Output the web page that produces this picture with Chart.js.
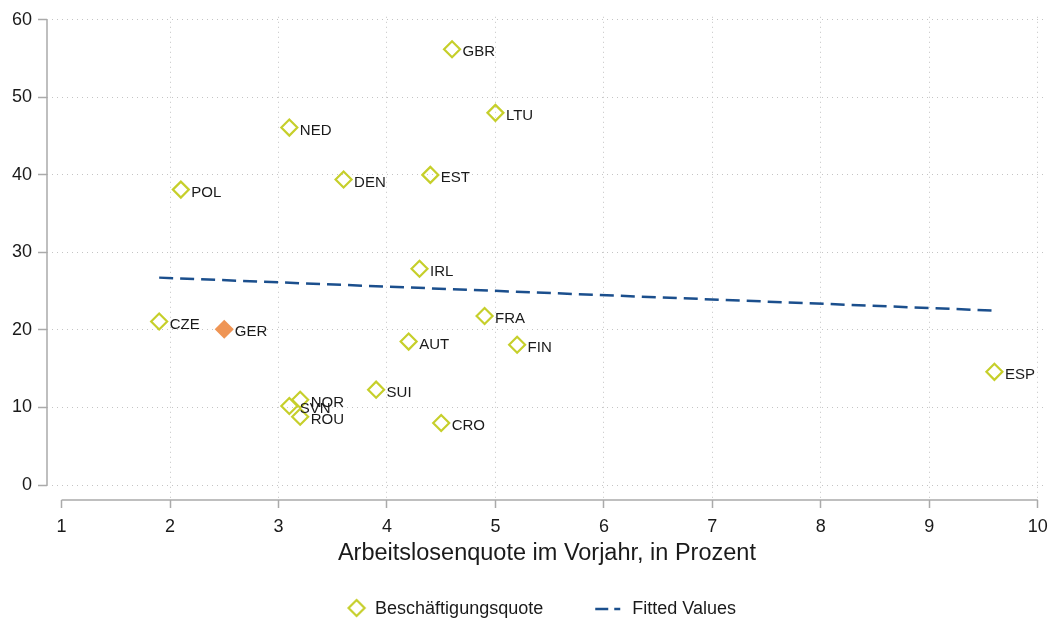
<!DOCTYPE html>
<html lang="de">
<head>
  <meta charset="UTF-8">
  <title>Beschäftigungsquote vs Arbeitslosenquote</title>
  <script src="https://cdn.jsdelivr.net/npm/chart.js"></script>
  <style>
    html, body { margin: 0; padding: 0; background: #fff; }
    #chart { display: block; }
  </style>
</head>
<body>
  <canvas id="chart" width="1057" height="623"></canvas>
  <script>
    // data
    const countries = ['GBR','LTU','NED','EST','DEN','POL','IRL','CZE','GER','FRA','AUT','FIN','ESP','SUI','NOR','SVN','ROU','CRO'];
    const unemployment = [4.6, 5.0, 3.1, 4.4, 3.6, 2.1, 4.3, 1.9, 2.5, 4.9, 4.2, 5.2, 9.6, 3.9, 3.2, 3.1, 3.2, 4.5];
    const employment = [56.2, 48.0, 46.1, 40.0, 39.4, 38.1, 27.9, 21.1, 20.1, 21.8, 18.5, 18.1, 14.6, 12.3, 11.0, 10.2, 8.8, 8.0];
    const fitX = [1.9, 9.6];
    const fitY = [26.75, 22.5];
    const xTicks = [1, 2, 3, 4, 5, 6, 7, 8, 9, 10];
    const yTicks = [0, 10, 20, 30, 40, 50, 60];
    const highlight = 'GER';

    const green = '#c6cf2b';
    const orange = '#ef9555';
    const blue = '#1b4f8d';
    const axisGray = '#aaaaaa';
    const gridGray = '#c4c4c4';
    const font = '"Liberation Sans", Arial, Helvetica, sans-serif';

    function marker(w, h, draw) {
      const c = document.createElement('canvas');
      c.width = w; c.height = h;
      draw(c.getContext('2d'));
      return c;
    }
    const diamondIcon = marker(64, 22, g => {
      const cx = 32 + 16.5, cy = 10;
      g.strokeStyle = green; g.lineWidth = 2.2;
      g.beginPath();
      g.moveTo(cx, cy - 8); g.lineTo(cx + 8, cy); g.lineTo(cx, cy + 8); g.lineTo(cx - 8, cy);
      g.closePath(); g.stroke();
    });
    const dashIcon = marker(64, 22, g => {
      g.strokeStyle = blue; g.lineWidth = 2.5;
      g.beginPath();
      g.moveTo(32 - 2, 11); g.lineTo(32 + 11, 11);
      g.moveTo(32 + 17, 11); g.lineTo(32 + 23, 11);
      g.stroke();
    });

    const pointLabels = {
      id: 'pointLabels',
      afterDatasetsDraw(chart) {
        const meta = chart.getDatasetMeta(0);
        const ctx = chart.ctx;
        ctx.save();
        ctx.font = '15px ' + font;
        ctx.fillStyle = '#1a1a1a';
        ctx.textBaseline = 'middle';
        meta.data.forEach((el, i) => ctx.fillText(countries[i], el.x + 10.5, el.y + 3));
        ctx.restore();
      }
    };

    const axisLines = {
      id: 'axisLines',
      beforeDatasetsDraw(chart) {
        const {ctx, chartArea, scales: {x, y}} = chart;
        ctx.save();
        ctx.strokeStyle = axisGray;
        ctx.lineWidth = 1.5;
        ctx.beginPath();
        ctx.moveTo(chartArea.left, y.getPixelForValue(yTicks[yTicks.length - 1]));
        ctx.lineTo(chartArea.left, y.getPixelForValue(yTicks[0]));
        ctx.moveTo(x.getPixelForValue(xTicks[0]), chartArea.bottom);
        ctx.lineTo(x.getPixelForValue(xTicks[xTicks.length - 1]), chartArea.bottom);
        ctx.stroke();
        ctx.restore();
      }
    };

    const scatterPoints = countries.map((c, i) => ({x: unemployment[i], y: employment[i]}));
    const fitPoints = fitX.map((v, i) => ({x: v, y: fitY[i]}));

    new Chart(document.getElementById('chart'), {
      type: 'scatter',
      data: {
        datasets: [
          {
            label: 'Beschäftigungsquote',
            data: scatterPoints,
            pointStyle: 'rectRot',
            pointRadius: 8,
            pointHoverRadius: 8,
            borderWidth: 2.2,
            borderColor: countries.map(c => c === highlight ? orange : green),
            backgroundColor: countries.map(c => c === highlight ? orange : 'rgba(0,0,0,0)')
          },
          {
            label: 'Fitted Values',
            type: 'line',
            data: fitPoints,
            borderColor: blue,
            borderWidth: 2.5,
            borderDash: [14, 7],
            pointRadius: 0,
            fill: false
          }
        ]
      },
      options: {
        responsive: false,
        animation: false,
        layout: { padding: { left: 0, right: 7, top: 11, bottom: -5 } },
        scales: {
          x: {
            type: 'linear',
            min: 0.866,
            max: 10.083,
            afterBuildTicks: s => { s.ticks = xTicks.map(v => ({value: v})); },
            afterFit: s => { s.height = 72; },
            ticks: { color: '#1a1a1a', font: { family: font, size: 18 }, padding: 8, maxRotation: 0 },
            grid: {
              color: c => (c.tick && c.tick.value === xTicks[0]) ? 'rgba(0,0,0,0)' : gridGray,
              lineWidth: 1,
              tickLength: 8,
              tickColor: axisGray,
              tickWidth: 1.5
            },
            border: { display: false, dash: [1, 4] },
            title: {
              display: true,
              text: 'Arbeitslosenquote im Vorjahr, in Prozent',
              color: '#1a1a1a',
              font: { family: font, size: 23.5 },
              padding: { top: 0, bottom: 4 }
            }
          },
          y: {
            min: -1.931,
            max: 60.39,
            afterBuildTicks: s => { s.ticks = yTicks.map(v => ({value: v})); },
            afterFit: s => { s.width = 47; },
            ticks: { color: '#1a1a1a', font: { family: font, size: 18 }, padding: 6 },
            grid: {
              color: gridGray,
              lineWidth: 1,
              tickLength: 9,
              tickColor: axisGray,
              tickWidth: 1.5
            },
            border: { display: false, dash: [1, 4] }
          }
        },
        plugins: {
          legend: {
            position: 'bottom',
            labels: {
              usePointStyle: true,
              pointStyleWidth: 52,
              padding: 28,
              color: '#1a1a1a',
              font: { family: font, size: 18 },
              generateLabels: chart => chart.data.datasets.map((ds, i) => ({
                text: ds.label,
                datasetIndex: i,
                pointStyle: i === 0 ? diamondIcon : dashIcon,
                rotation: 0,
                fillStyle: 'rgba(0,0,0,0)',
                strokeStyle: 'rgba(0,0,0,0)',
                lineWidth: 0,
                fontColor: '#1a1a1a',
                hidden: false
              }))
            }
          },
          tooltip: { enabled: false }
        }
      },
      plugins: [axisLines, pointLabels]
    });
  </script>
</body>
</html>
